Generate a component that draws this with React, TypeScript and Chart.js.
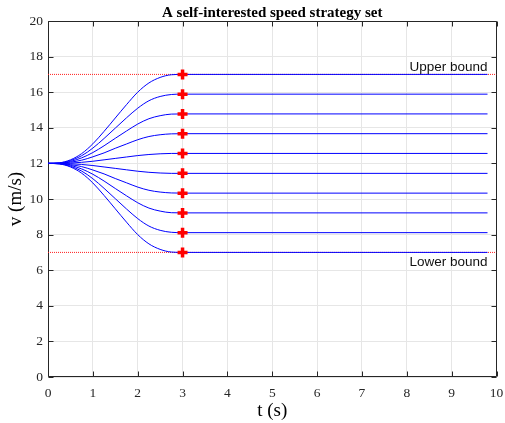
import React, { useEffect, useRef } from "react";
import { Chart, registerables } from "chart.js";

Chart.register(...registerables);

const titleText = "A self-interested speed strategy set";
const xTitle = "t (s)";
const yTitle = "v (m/s)";
const upperLabel = "Upper bound";
const lowerLabel = "Lower bound";

// time samples of the speed curves (s)
const times = [0, 0.25, 0.5, 0.75, 1, 1.25, 1.5, 1.75, 2, 2.25, 2.5, 2.75, 3, 9.8];

// speed curves (m/s)
const s1 = [12, 12.03, 12.2, 12.55, 13.1, 13.8, 14.55, 15.3, 16.0, 16.52, 16.83, 16.98, 17, 17];
const s2 = [12, 12.02, 12.16, 12.43, 12.86, 13.4, 13.98, 14.56, 15.1, 15.52, 15.76, 15.87, 15.89, 15.89];
const s3 = [12, 12.01, 12.11, 12.31, 12.61, 12.99, 13.41, 13.82, 14.21, 14.51, 14.68, 14.77, 14.78, 14.78];
const s4 = [12, 12.01, 12.07, 12.18, 12.37, 12.59, 12.85, 13.09, 13.33, 13.51, 13.61, 13.66, 13.67, 13.67];
const s5 = [12, 12, 12.02, 12.06, 12.12, 12.2, 12.28, 12.36, 12.44, 12.5, 12.54, 12.56, 12.56, 12.56];
const s6 = [12, 12, 11.98, 11.94, 11.88, 11.8, 11.72, 11.64, 11.56, 11.5, 11.46, 11.44, 11.44, 11.44];
const s7 = [12, 11.99, 11.93, 11.82, 11.63, 11.41, 11.15, 10.91, 10.67, 10.49, 10.39, 10.34, 10.33, 10.33];
const s8 = [12, 11.99, 11.89, 11.69, 11.39, 11.01, 10.59, 10.18, 9.79, 9.49, 9.32, 9.23, 9.22, 9.22];
const s9 = [12, 11.98, 11.84, 11.57, 11.14, 10.6, 10.02, 9.44, 8.9, 8.48, 8.24, 8.13, 8.11, 8.11];
const s10 = [12, 11.97, 11.8, 11.45, 10.9, 10.2, 9.45, 8.7, 8.0, 7.48, 7.17, 7.02, 7, 7];

const curves = [s1, s2, s3, s4, s5, s6, s7, s8, s9, s10];

// strategy switch markers
const markerTime = 3;
const markerValues = [17, 15.89, 14.78, 13.67, 12.56, 11.44, 10.33, 9.22, 8.11, 7];

// bounds
const boundTimes = [0, 10];
const upperBound = 17;
const lowerBound = 7;
const labelTime = 9.8;

// axes
const xMin = 0, xMax = 10, xStep = 1;
const yMin = 0, yMax = 20, yStep = 2;

const SERIF = "'Liberation Serif', 'Times New Roman', serif";
const SANS = "'Liberation Sans', Arial, sans-serif";
const AXIS = "#262626";

const framePlugin = {
  id: "frame",
  beforeDatasetsDraw(chart: any) {
    const { ctx, chartArea: a, scales } = chart;
    const xs = scales.x, ys = scales.y;
    ctx.save();
    ctx.strokeStyle = AXIS;
    ctx.lineWidth = 1;
    const L = Math.round(a.left) + 0.5, R = Math.round(a.right) - 0.5;
    const T = Math.round(a.top) + 0.5, B = Math.round(a.bottom) - 0.5;
    ctx.beginPath();
    ctx.rect(L, T, R - L, B - T);
    ctx.stroke();
    const tl = 5;
    ctx.beginPath();
    for (let v = xMin; v <= xMax; v += xStep) {
      const px = Math.round(xs.getPixelForValue(v)) + 0.5;
      ctx.moveTo(px, B); ctx.lineTo(px, B - tl);
      ctx.moveTo(px, T); ctx.lineTo(px, T + tl);
    }
    for (let v = yMin; v <= yMax; v += yStep) {
      const py = Math.round(ys.getPixelForValue(v)) + 0.5;
      ctx.moveTo(L, py); ctx.lineTo(L + tl, py);
      ctx.moveTo(R, py); ctx.lineTo(R - tl, py);
    }
    ctx.stroke();
    ctx.restore();
  },
  afterDraw(chart: any) {
    const { ctx, chartArea: a, scales } = chart;
    ctx.save();
    ctx.fillStyle = "#000";
    ctx.font = `bold 15px ${SERIF}`;
    ctx.textAlign = "center";
    ctx.textBaseline = "middle";
    ctx.fillText(titleText, (a.left + a.right) / 2, 13);
    ctx.font = `13.5px ${SANS}`;
    ctx.fillStyle = "#111";
    ctx.textAlign = "right";
    const xr = scales.x.getPixelForValue(labelTime);
    ctx.fillText(upperLabel, xr, scales.y.getPixelForValue(upperBound) - 7);
    ctx.fillText(lowerLabel, xr, scales.y.getPixelForValue(lowerBound) + 10);
    ctx.restore();
  },
};

export default function App() {
  const ref = useRef<HTMLCanvasElement>(null);
  useEffect(() => {
    if (!ref.current) return;
    const curveSets = curves.map((c, i) => ({
      label: `s${i + 1}`,
      data: c.map((v, k) => ({ x: times[k], y: v })),
      borderColor: "#0000ff",
      borderWidth: 1,
      pointRadius: 0,
      fill: false,
      cubicInterpolationMode: "monotone" as const,
    }));
    const markerSet = {
      label: "markers",
      data: markerValues.map((v) => ({ x: markerTime, y: v })),
      showLine: false,
      pointStyle: "cross" as const,
      pointRadius: 5,
      pointBorderWidth: 3.5,
      pointBorderColor: "#ff0000",
      pointBackgroundColor: "#ff0000",
      borderColor: "#ff0000",
    };
    const boundSets = [upperBound, lowerBound].map((b, i) => ({
      label: i === 0 ? "upper" : "lower",
      data: boundTimes.map((t) => ({ x: t, y: b })),
      borderColor: "#ff2020",
      borderWidth: 1,
      borderDash: [1, 1],
      pointRadius: 0,
      fill: false,
    }));
    const chart = new Chart(ref.current, {
      type: "line",
      data: { datasets: [markerSet, ...curveSets, ...boundSets] as any },
      options: {
        animation: false,
        responsive: false,
        layout: { padding: { top: 21, right: 5, left: 0, bottom: 0 } },
        plugins: { legend: { display: false }, tooltip: { enabled: false }, title: { display: false } },
        scales: {
          x: {
            type: "linear",
            min: xMin,
            max: xMax,
            ticks: { stepSize: xStep, font: { family: SERIF, size: 13.5 }, color: AXIS, padding: 8, maxRotation: 0 },
            grid: { color: "#e6e6e6", drawTicks: false },
            border: { display: false },
            title: { display: true, text: xTitle, font: { family: SERIF, size: 19 }, color: "#000", padding: { top: 0, bottom: 1 } },
            afterFit(scale: any) {
              scale.height = 46;
              scale.paddingLeft = 0;
              scale.paddingRight = 0;
            },
          },
          y: {
            type: "linear",
            min: yMin,
            max: yMax,
            ticks: { stepSize: yStep, font: { family: SERIF, size: 13.5 }, color: AXIS, padding: 5 },
            grid: { color: "#e6e6e6", drawTicks: false },
            border: { display: false },
            title: { display: true, text: yTitle, font: { family: SERIF, size: 19 }, color: "#000", padding: { top: 5, bottom: 0 } },
            afterFit(scale: any) {
              scale.width = 48;
              scale.paddingTop = 0;
              scale.paddingBottom = 0;
            },
          },
        },
      } as any,
      plugins: [framePlugin],
    });
    return () => chart.destroy();
  }, []);
  return (
    <div style={{ position: "fixed", left: 0, top: 0, width: 505, height: 423, background: "#fff" }}>
      <canvas ref={ref} width={505} height={423} style={{ display: "block" }} />
    </div>
  );
}
